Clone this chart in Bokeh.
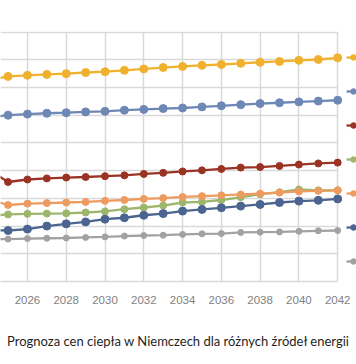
from bokeh.plotting import figure
from bokeh.models import FixedTicker, Legend, LegendItem, Range1d
from bokeh.embed import file_html
from bokeh.resources import INLINE

years = list(range(2024, 2043))
title_text = "Prognoza cen ciepła w Niemczech dla różnych źródeł energii"
x_ticks = list(range(2026, 2043, 2))
y_ticks = list(range(0, 91, 10))

s_yellow = [72.6, 74.0, 74.4, 74.7, 75.0, 75.4, 75.7, 76.2, 76.7, 77.2, 77.6, 78.0, 78.3, 78.7, 79.1, 79.4, 79.8, 80.1, 80.7]
s_slate = [59.2, 60.0, 60.4, 60.7, 60.9, 61.2, 61.4, 61.8, 62.1, 62.4, 62.6, 63.0, 63.4, 63.8, 64.2, 64.5, 64.8, 65.1, 65.4]
s_red = [40.3, 35.9, 36.8, 37.2, 37.5, 37.7, 38.0, 38.3, 38.8, 39.2, 39.7, 40.1, 40.6, 41.1, 41.3, 41.7, 42.2, 42.6, 42.9]
s_green = [23.7, 24.2, 24.4, 24.5, 24.6, 24.9, 25.3, 26.1, 26.7, 27.4, 28.5, 28.7, 29.4, 30.4, 31.5, 32.2, 33.2, 32.9, 32.9]
s_orange = [29.7, 27.6, 28.1, 28.3, 28.5, 28.7, 29.1, 29.4, 29.8, 30.1, 30.5, 30.8, 31.1, 31.4, 31.7, 32.1, 32.5, 32.7, 32.9]
s_navy = [18.5, 18.4, 18.9, 20.0, 20.8, 21.5, 22.5, 23.0, 23.9, 24.5, 25.4, 26.0, 26.6, 27.2, 27.8, 28.5, 29.0, 29.3, 29.8]
s_grey = [15.2, 15.3, 15.5, 15.6, 15.7, 15.9, 16.1, 16.4, 16.6, 16.7, 17.0, 17.2, 17.3, 17.7, 17.8, 17.9, 18.1, 18.3, 18.4]

series = [s_yellow, s_slate, s_red, s_green, s_orange, s_navy, s_grey]
colors = ["#F0B22E", "#6E88B6", "#9A3324", "#9CB76C", "#EE9B60", "#4B6490", "#A2A2A2"]
msizes = [8, 8, 7, 7, 7, 8, 6]

X_START = 2024.61
X_END = 2042.97
X_LAST = 2042

p = figure(width=356, height=364, output_backend="svg", toolbar_location=None,
           min_border_left=0, min_border_right=0, min_border_top=31, min_border_bottom=83,
           x_range=Range1d(X_START, X_END), y_range=Range1d(0, 90.2))
p.outline_line_color = None
p.background_fill_color = "white"
p.border_fill_color = "white"

p.yaxis.visible = False
p.yaxis.ticker = FixedTicker(ticks=y_ticks)
p.xaxis.ticker = FixedTicker(ticks=x_ticks)
p.xaxis.bounds = (X_START, X_LAST)
p.xaxis.axis_line_color = "#D9D9D9"
p.xaxis.axis_line_width = 1.5
p.xaxis.major_tick_line_color = None
p.xaxis.minor_tick_line_color = None
p.xaxis.major_label_standoff = 8
p.xaxis.major_label_text_font = "Liberation Sans"
p.xaxis.major_label_text_font_size = "11.5px"
p.xaxis.major_label_text_color = "#7F7F7F"
p.xaxis.axis_label = title_text
p.xaxis.axis_label_standoff = 26
p.xaxis.axis_label_text_font = "Lato"
p.xaxis.axis_label_text_font_size = "13px"
p.xaxis.axis_label_text_font_style = "normal"
p.xaxis.axis_label_text_color = "#1F1F1F"

p.xgrid.grid_line_color = "#D9D9D9"
p.xgrid.grid_line_width = 1.5
p.ygrid.grid_line_color = "#D9D9D9"
p.ygrid.grid_line_width = 1.5
p.ygrid.cross_bounds = (X_START, X_LAST)

items = []
for vals, c, ms in zip(series, colors, msizes):
    ln = p.line(years, vals, line_color=c, line_width=2.3)
    sc = p.scatter(years, vals, marker="circle", size=ms, fill_color=c, line_color=c)
    items.append(LegendItem(label="", renderers=[ln, sc]))

legend = Legend(items=items, location=(346, 10), padding=0, margin=0,
                glyph_width=14, glyph_height=20, label_height=20, spacing=14,
                label_text_font_size="12px",
                background_fill_alpha=0, border_line_alpha=0)
p.add_layout(legend, "center")

open("out.html", "w").write(file_html(p, INLINE))
